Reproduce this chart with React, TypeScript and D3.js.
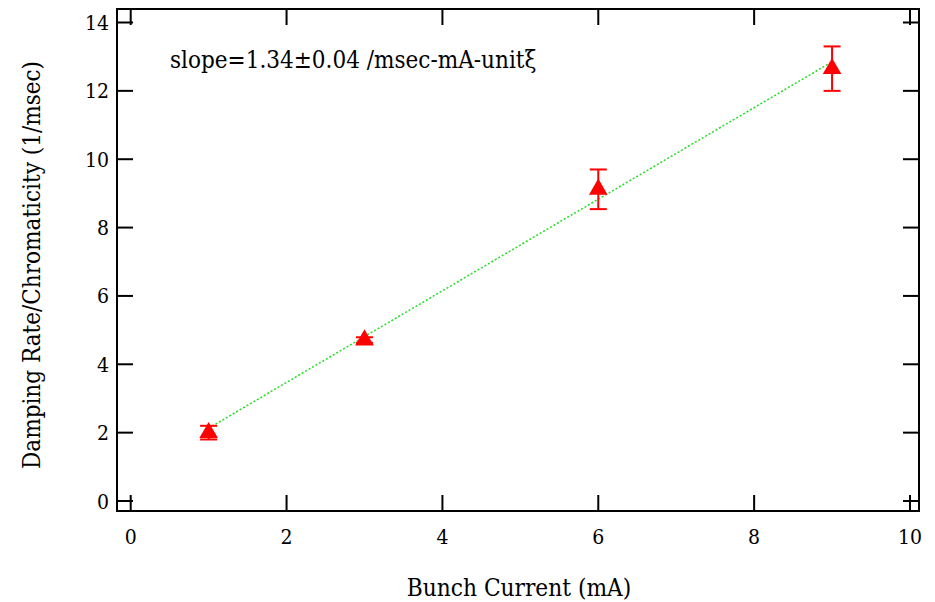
import React from "react";
import * as d3 from "d3";

const xValues = [1, 3, 6, 9];
const yValues = [2.0, 4.71, 9.12, 12.65];
const yErrors = [0.2, 0.08, 0.58, 0.65];
const fitSlope = 1.34;
const fitIntercept = 0.79;
const fitRange = [1, 9];
const xTicks = [0, 2, 4, 6, 8, 10];
const yTicks = [0, 2, 4, 6, 8, 10, 12, 14];
const annotation = "slope=1.34±0.04 /msec-mA-unitξ";
const xTitle = "Bunch Current (mA)";
const yTitle = "Damping Rate/Chromaticity (1/msec)";

export default function App() {
  const W = 935, H = 602;
  const frame = { l: 117, r: 919, t: 9, b: 511 };
  const x = d3.scaleLinear().domain([0, 10]).range([130.7, 910]);
  const y = d3.scaleLinear().domain([0, 14]).range([501, 22.5]);
  const font = "'DejaVu Serif Condensed', 'DejaVu Serif', serif";
  const tl = 16;
  const red = "#ff0000";
  const tri = d3.symbol().type(d3.symbolTriangle).size(150)();
  const textStyle = { fontStretch: "condensed" as const };
  return (
    <svg width={W} height={H} style={{ position: "absolute", left: 0, top: 0 }}>
      <rect x={0} y={0} width={W} height={H} fill="#fff" />
      <line
        x1={x(fitRange[0])}
        y1={y(fitSlope * fitRange[0] + fitIntercept)}
        x2={x(fitRange[1])}
        y2={y(fitSlope * fitRange[1] + fitIntercept)}
        stroke="#22dd22"
        strokeWidth={1.5}
        strokeDasharray="2,2"
      />
      {xValues.map((xv, i) => {
        const cx = x(xv);
        const top = y(yValues[i] + yErrors[i]);
        const bot = y(yValues[i] - yErrors[i]);
        return (
          <g key={i}>
            <line x1={cx} x2={cx} y1={top} y2={bot} stroke={red} strokeWidth={2} />
            <line x1={cx - 8.5} x2={cx + 8.5} y1={top} y2={top} stroke={red} strokeWidth={2} />
            <line x1={cx - 8.5} x2={cx + 8.5} y1={bot} y2={bot} stroke={red} strokeWidth={2} />
            <path d={tri!} transform={`translate(${cx},${y(yValues[i])})`} fill={red} />
          </g>
        );
      })}
      <rect
        x={frame.l}
        y={frame.t}
        width={frame.r - frame.l}
        height={frame.b - frame.t}
        fill="none"
        stroke="#000"
        strokeWidth={2}
      />
      {xTicks.map((t) => (
        <g key={"x" + t}>
          <line x1={x(t)} x2={x(t)} y1={frame.b} y2={frame.b - tl} stroke="#000" strokeWidth={2} />
          <line x1={x(t)} x2={x(t)} y1={frame.t} y2={frame.t + tl} stroke="#000" strokeWidth={2} />
          <text x={x(t)} y={544} textAnchor="middle" fontFamily={font} fontSize={21} style={textStyle}>
            {t}
          </text>
        </g>
      ))}
      {yTicks.map((t) => (
        <g key={"y" + t}>
          <line x1={frame.l} x2={frame.l + tl} y1={y(t)} y2={y(t)} stroke="#000" strokeWidth={2} />
          <line x1={frame.r} x2={frame.r - tl} y1={y(t)} y2={y(t)} stroke="#000" strokeWidth={2} />
          <text x={109} y={y(t)} dy="0.36em" textAnchor="end" fontFamily={font} fontSize={21} style={textStyle}>
            {t}
          </text>
        </g>
      ))}
      <text x={170} y={68} fontFamily={font} fontSize={24} style={textStyle}>
        {annotation}
      </text>
      <text x={519} y={596} textAnchor="middle" fontFamily={font} fontSize={24.2} style={textStyle}>
        {xTitle}
      </text>
      <text
        transform={`translate(40,${265}) rotate(-90)`}
        textAnchor="middle"
        fontFamily={font}
        fontSize={24}
        style={textStyle}
      >
        {yTitle}
      </text>
    </svg>
  );
}
